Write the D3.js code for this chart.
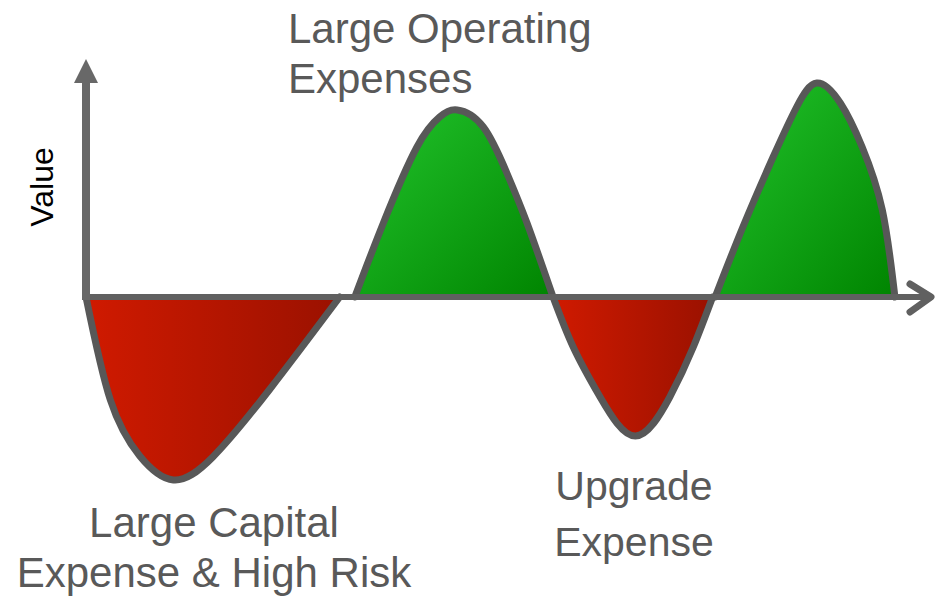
<!DOCTYPE html>
<html>
<head>
<meta charset="utf-8">
<script src="https://cdn.jsdelivr.net/npm/d3@7"></script>
<style>
  body { margin: 0; background: #fff; }
  text { font-family: "Liberation Sans", Arial, sans-serif; }
</style>
</head>
<body>
<div id="chart"></div>
<script>
// lobes of the value curve (x: time 0-100, y: value)
var capitalX = [0, 2.9, 6.4, 10.4, 15.1, 21.9, 30.2];
var capitalY = [0, -51.5, -79.5, -91.5, -80, -46, 0];
var opex1X = [32, 35.4, 39.4, 42.1, 44.2, 47.3, 50.1, 52.5, 55.6];
var opex1Y = [0, 37, 75, 90, 93.5, 85, 62, 37, 0];
var upgradeX = [55.6, 58, 61.2, 65.4, 69.5, 72.3, 74.6];
var upgradeY = [0, -25, -50, -69.5, -50, -25, 0];
var opex2X = [74.9, 78.2, 81.8, 84.6, 87, 89.8, 92.4, 94.8, 96.3];
var opex2Y = [0, 35, 70, 95, 107, 97, 75, 43.5, 0];

var lobes = [
    {x: capitalX, y: capitalY, kind: 'loss'},
    {x: opex1X, y: opex1Y, kind: 'gain'},
    {x: upgradeX, y: upgradeY, kind: 'loss'},
    {x: opex2X, y: opex2Y, kind: 'gain'}
];

var labels = [
    {lines: ['Large Operating', 'Expenses'], x: 288, y: 43, dy: 50, anchor: 'start', size: 42},
    {lines: ['Large Capital', 'Expense & High Risk'], x: 214, y: 537, dy: 50, anchor: 'middle', size: 42},
    {lines: ['Upgrade', 'Expense'], x: 634, y: 500, dy: 56, anchor: 'middle', size: 41}
];

var width = 935;
var height = 596;

var svg = d3.select('#chart')
    .append('svg')
    .attr('width', width)
    .attr('height', height);

var x = d3.scaleLinear().domain([0, 100]).range([86, 926]);
var y = d3.scaleLinear().domain([-100, 100]).range([497, 97]);

var defs = svg.append('defs');

var red = defs.append('linearGradient')
    .attr('id', 'grad-loss')
    .attr('x1', 0).attr('y1', 0).attr('x2', 1).attr('y2', 0);
red.append('stop').attr('offset', '0%').attr('stop-color', '#d01a00');
red.append('stop').attr('offset', '100%').attr('stop-color', '#9a1100');

var green = defs.append('linearGradient')
    .attr('id', 'grad-gain')
    .attr('x1', 0).attr('y1', 0).attr('x2', 1).attr('y2', 1);
green.append('stop').attr('offset', '0%').attr('stop-color', '#22c42c');
green.append('stop').attr('offset', '100%').attr('stop-color', '#008400');

var area = d3.area()
    .x(function (d) { return x(d[0]); })
    .y0(y(0))
    .y1(function (d) { return y(d[1]); })
    .curve(d3.curveNatural);

var line = d3.line()
    .x(function (d) { return x(d[0]); })
    .y(function (d) { return y(d[1]); })
    .curve(d3.curveNatural);

lobes.forEach(function (l) {
    var pts = l.x.map(function (v, i) { return [v, l.y[i]]; });
    svg.append('path')
        .attr('d', area(pts))
        .attr('fill', 'url(#grad-' + l.kind + ')');
    svg.append('path')
        .attr('d', line(pts))
        .attr('fill', 'none')
        .attr('stroke', '#585858')
        .attr('stroke-width', 7)
        .attr('stroke-linejoin', 'round')
        .attr('stroke-linecap', 'round');
});

// x axis with open arrow
svg.append('line')
    .attr('x1', x(0)).attr('x2', x(100) + 2)
    .attr('y1', y(0)).attr('y2', y(0))
    .attr('stroke', '#606060')
    .attr('stroke-width', 6);

svg.append('path')
    .attr('d', 'M' + (x(100) - 16) + ',' + (y(0) - 13) +
        'L' + (x(100) + 5) + ',' + y(0) +
        'L' + (x(100) - 16) + ',' + (y(0) + 15))
    .attr('fill', 'none')
    .attr('stroke', '#606060')
    .attr('stroke-width', 7)
    .attr('stroke-linecap', 'round')
    .attr('stroke-linejoin', 'round');

// y axis with solid arrow
svg.append('line')
    .attr('x1', x(0)).attr('x2', x(0))
    .attr('y1', y(0) + 3).attr('y2', 82)
    .attr('stroke', '#686868')
    .attr('stroke-width', 8);

svg.append('path')
    .attr('d', 'M' + (x(0) - 12) + ',83L' + (x(0) + 12) + ',83L' + x(0) + ',59Z')
    .attr('fill', '#686868');

svg.append('text')
    .attr('transform', 'translate(53,187) rotate(-90)')
    .attr('text-anchor', 'middle')
    .attr('font-size', 32)
    .attr('fill', '#000')
    .text('Value');

labels.forEach(function (lb) {
    var t = svg.append('text')
        .attr('text-anchor', lb.anchor)
        .attr('font-size', lb.size)
        .attr('fill', '#595959');
    lb.lines.forEach(function (s, i) {
        t.append('tspan')
            .attr('x', lb.x)
            .attr('y', lb.y + i * lb.dy)
            .text(s);
    });
});
</script>
</body>
</html>
